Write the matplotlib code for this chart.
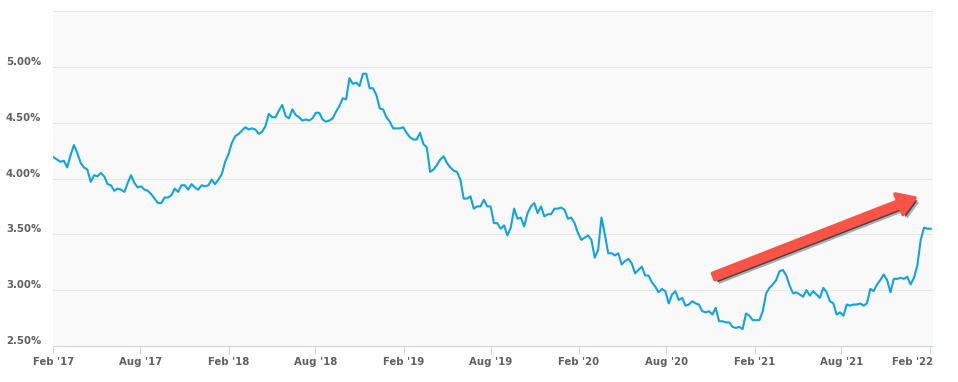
# Weekly mortgage rate chart, Feb 2017 - Feb 2022

import numpy as np
import matplotlib
matplotlib.use('Agg')
import matplotlib.pyplot as plt
import matplotlib.patheffects as pe
import matplotlib.transforms as mtrans
import pandas as pd

# Data (weekly readings, first week of Feb 2017 onwards)
rates_2017 = [4.19, 4.17, 4.15, 4.16,
              4.10, 4.21, 4.30, 4.23, 4.14,
              4.10, 4.08, 3.97, 4.03,
              4.02, 4.05, 4.02, 3.95,
              3.94, 3.89, 3.91, 3.90, 3.88,
              3.96, 4.03, 3.96, 3.92,
              3.93, 3.90, 3.89, 3.86, 3.82,
              3.78, 3.78, 3.83, 3.83,
              3.85, 3.91, 3.88, 3.94,
              3.94, 3.90, 3.95, 3.92, 3.90,
              3.94, 3.93, 3.94, 3.99]
rates_2018 = [3.95, 3.99, 4.04, 4.15,
              4.22, 4.32, 4.38, 4.40,
              4.43, 4.46, 4.44, 4.45, 4.44,
              4.40, 4.42, 4.47, 4.58,
              4.55, 4.55, 4.61, 4.66, 4.56,
              4.54, 4.62, 4.57, 4.55,
              4.52, 4.53, 4.52, 4.54,
              4.59, 4.59, 4.53, 4.51, 4.52,
              4.54, 4.60, 4.65, 4.72,
              4.71, 4.90, 4.85, 4.86,
              4.83, 4.94, 4.94, 4.81, 4.81,
              4.75, 4.63, 4.62, 4.55]
rates_2019 = [4.51, 4.45, 4.45, 4.45, 4.46,
              4.41, 4.37, 4.35, 4.35,
              4.41, 4.31, 4.28, 4.06,
              4.08, 4.12, 4.17, 4.20,
              4.14, 4.10, 4.07, 4.06, 3.99,
              3.82, 3.82, 3.84, 3.73,
              3.75, 3.75, 3.81, 3.75,
              3.75, 3.60, 3.60, 3.55, 3.58,
              3.49, 3.56, 3.73, 3.64,
              3.65, 3.57, 3.69, 3.75, 3.78,
              3.69, 3.75, 3.66, 3.68,
              3.68, 3.73, 3.73, 3.74]
rates_2020 = [3.72, 3.64, 3.65, 3.60, 3.51,
              3.45, 3.47, 3.49, 3.45,
              3.29, 3.36, 3.65, 3.50,
              3.33, 3.33, 3.31, 3.33, 3.23,
              3.26, 3.28, 3.24, 3.15,
              3.18, 3.21, 3.13, 3.13,
              3.07, 3.03, 2.98, 3.01, 2.99,
              2.88, 2.96, 2.99, 2.91,
              2.93, 2.86, 2.87, 2.90,
              2.88, 2.87, 2.81, 2.80, 2.81,
              2.78, 2.84, 2.72, 2.72,
              2.71, 2.71, 2.67, 2.66, 2.67]
rates_2021 = [2.65, 2.79, 2.77, 2.73,
              2.73, 2.73, 2.81, 2.97,
              3.02, 3.05, 3.09, 3.17,
              3.18, 3.13, 3.04, 2.97, 2.98,
              2.96, 2.94, 3.00, 2.95,
              2.99, 2.96, 2.93, 3.02,
              2.98, 2.90, 2.88, 2.78, 2.80,
              2.77, 2.87, 2.86, 2.87,
              2.87, 2.88, 2.86, 2.88, 3.01,
              2.99, 3.05, 3.09, 3.14,
              3.09, 2.98, 3.10, 3.10,
              3.11, 3.10, 3.12, 3.05, 3.11]
rates_2022 = [3.22, 3.45, 3.56, 3.55, 3.55]

rates = rates_2017 + rates_2018 + rates_2019 + rates_2020 + rates_2021 + rates_2022
dates = pd.date_range('2017-02-02', periods=len(rates), freq='7D')

tick_dates = pd.to_datetime(['2017-02-01', '2017-08-01', '2018-02-01', '2018-08-01',
                             '2019-02-01', '2019-08-01', '2020-02-01', '2020-08-01',
                             '2021-02-01', '2021-08-01', '2022-02-01'])
tick_labels = ["Feb '17", "Aug '17", "Feb '18", "Aug '18", "Feb '19", "Aug '19",
               "Feb '20", "Aug '20", "Feb '21", "Aug '21", "Feb '22"]
y_ticks = [2.5, 3.0, 3.5, 4.0, 4.5, 5.0, 5.5]
y_labels = ['2.50%', '3.00%', '3.50%', '4.00%', '4.50%', '5.00%', '']

# Figure
W, H = 958, 382
fig = plt.figure(figsize=(W / 100, H / 100), dpi=100)
fig.patch.set_facecolor('white')
ax = fig.add_axes([53.3 / W, (H - 345.8) / H, (932.7 - 53.3) / W, (345.8 - 11.3) / H])
ax.set_facecolor('#f9f9f9')

ax.plot(dates, rates, color='#12a3e2', linewidth=1.5, solid_joinstyle='round', zorder=3)

ax.set_xlim(pd.Timestamp('2017-02-01'), pd.Timestamp('2022-02-07'))
ax.set_ylim(2.5, 5.5)

# grid + axes
ax.set_yticks(y_ticks)
ax.set_yticklabels([])
ax.tick_params(axis='y', length=0)
ax.grid(axis='y', color='#e6e6e6', linewidth=0.75, zorder=1)
for s in ['top', 'right', 'left']:
    ax.spines[s].set_visible(False)
ax.spines['bottom'].set_color('#ccd6eb')
ax.spines['bottom'].set_linewidth(0.75)
ax.spines['bottom'].set_zorder(4)

ax.set_xticks(tick_dates)
ax.set_xticklabels(tick_labels, fontsize=7.3, fontweight='bold', color='#606060')
ax.tick_params(axis='x', length=5.8, width=0.75, color='#ccd6eb', pad=2)
# last label is pushed inside the chart, like the original
last = ax.get_xticklabels()[-1]
last.set_ha('right')
last.set_transform(last.get_transform() + mtrans.ScaledTranslation(3 / 100, 0, fig.dpi_scale_trans))

# y labels sit left-aligned above their grid lines
for v, lab in zip(y_ticks, y_labels):
    ax.annotate(lab, xy=(6, v), xycoords=('figure pixels', 'data'),
                xytext=(0, 5), textcoords='offset pixels',
                ha='left', va='center', fontsize=7.3, fontweight='bold', color='#606060')

# red trend arrow with a drop shadow
arrow_red = '#fb5447'
ax.annotate('', xy=(0.980, 0.442), xytext=(0.751, 0.207), xycoords='axes fraction',
            arrowprops=dict(arrowstyle='simple,head_width=1.6,head_length=1.25,tail_width=0.5',
                            mutation_scale=10, facecolor=arrow_red, edgecolor=arrow_red,
                            linewidth=2.5, joinstyle='round', capstyle='round', shrinkA=0, shrinkB=0,
                            path_effects=[pe.SimplePatchShadow(offset=(3, -3), shadow_rgbFace='black', alpha=0.3),
                                          pe.SimplePatchShadow(offset=(1.8, -1.8), shadow_rgbFace='black', alpha=0.6),
                                          pe.Normal()]),
            zorder=5)

plt.savefig('out.png', dpi=100, facecolor='white')
